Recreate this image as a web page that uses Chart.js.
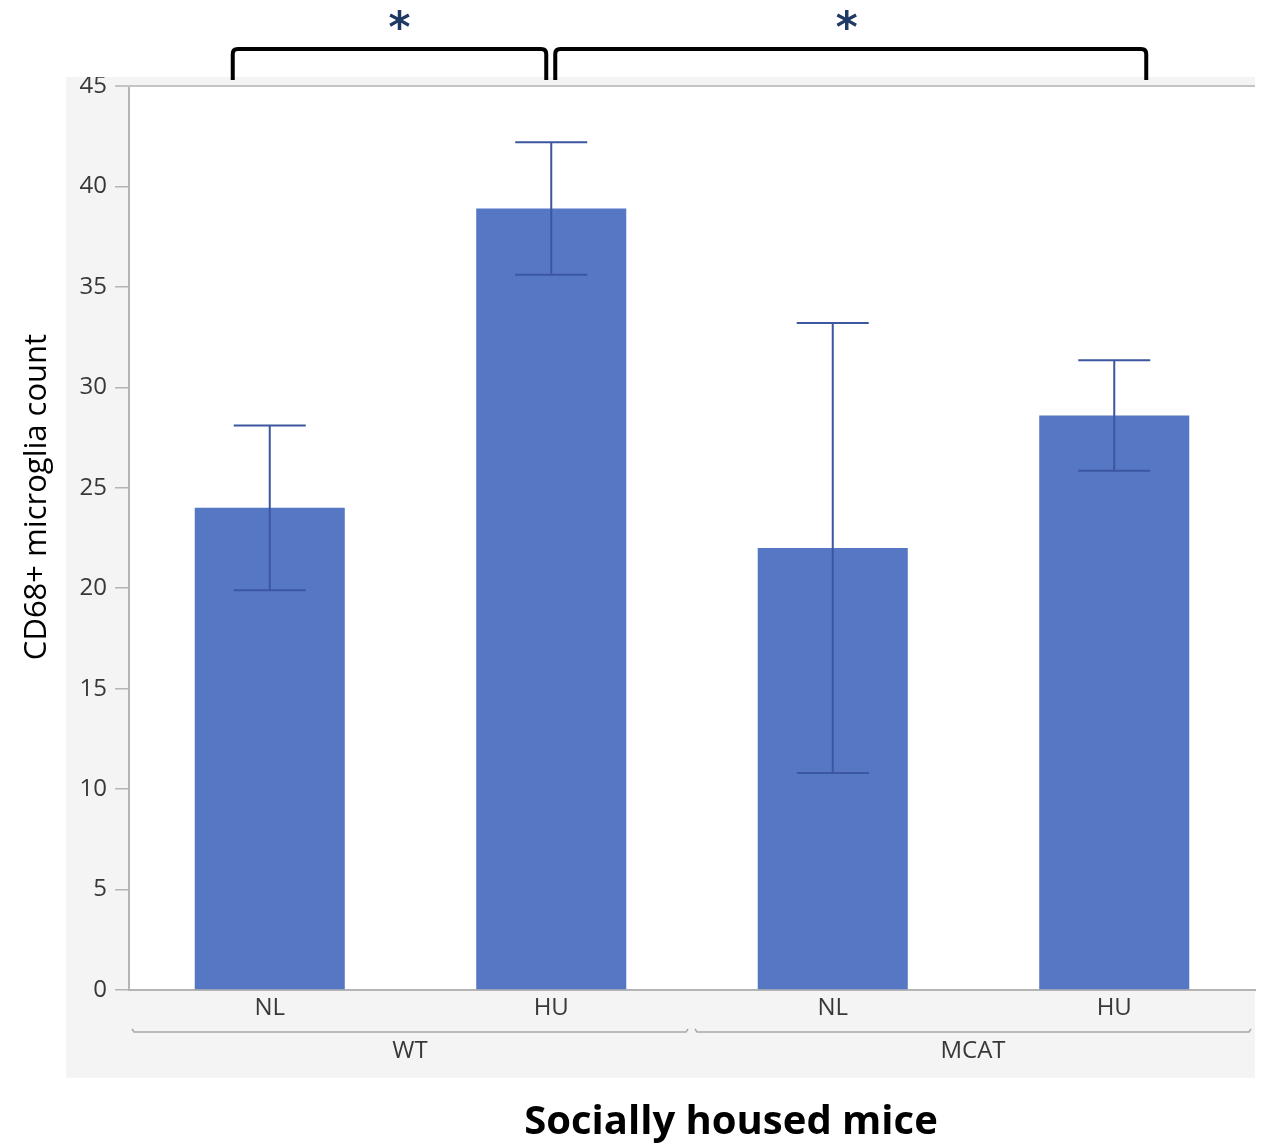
<!DOCTYPE html>
<html>
<head>
<meta charset="utf-8">
<script src="https://cdn.jsdelivr.net/npm/chart.js@4.4.1/dist/chart.umd.min.js"></script>
<style>
  html, body { margin: 0; padding: 0; background: #ffffff; }
  #wrap { position: relative; width: 1263px; height: 1145px; }
</style>
</head>
<body>
<div id="wrap"><canvas id="chart" width="1263" height="1145"></canvas></div>
<script>
// Bar categories (treatment) and their genotype groups
const categories = ['NL', 'HU', 'NL', 'HU'];
const groups = ['WT', 'MCAT'];
const groupSpans = [[0, 1], [2, 3]];

// Mean CD68+ microglia count and standard error for each bar
const means = [24.0, 38.9, 22.0, 28.6];
const sems = [4.1, 3.3, 11.2, 2.75];

// Y axis ticks
const yTicks = [0, 5, 10, 15, 20, 25, 30, 35, 40, 45];

// Significance brackets between bars
const brackets = [
  { from: 0, to: 1, label: '*' },
  { from: 1, to: 3, label: '*' }
];

const barColor = '#5677c4';
const errColor = '#3c56a0';
const labelFamily = '"Open Sans", "Noto Sans", sans-serif';
const tickFont = { family: labelFamily, size: 24 };

const decorations = {
  id: 'decorations',
  beforeDraw(chart) {
    const { ctx, chartArea: a } = chart;
    ctx.save();
    // light panel behind the plot
    ctx.fillStyle = '#f4f4f4';
    ctx.fillRect(66, a.top - 9, a.right - 66, 1078 - (a.top - 9));
    ctx.fillStyle = '#ffffff';
    ctx.fillRect(a.left, a.top, a.right - a.left, a.bottom - a.top);
    ctx.restore();
  },
  afterDatasetsDraw(chart) {
    const { ctx, chartArea: a, scales: { x, y } } = chart;
    ctx.save();

    // error bars
    ctx.strokeStyle = errColor;
    ctx.lineWidth = 2;
    const cap = 36;
    means.forEach((m, i) => {
      const cx = x.getPixelForValue(i);
      const yHi = y.getPixelForValue(m + sems[i]);
      const yLo = y.getPixelForValue(m - sems[i]);
      ctx.beginPath();
      ctx.moveTo(cx, yHi); ctx.lineTo(cx, yLo);
      ctx.moveTo(cx - cap, yHi); ctx.lineTo(cx + cap, yHi);
      ctx.moveTo(cx - cap, yLo); ctx.lineTo(cx + cap, yLo);
      ctx.stroke();
    });

    // top frame line
    ctx.strokeStyle = '#c4c4c4';
    ctx.lineWidth = 2;
    ctx.beginPath();
    ctx.moveTo(a.left - 14, a.top); ctx.lineTo(a.right, a.top);
    ctx.stroke();

    // genotype group separators and labels
    const step = x.getPixelForValue(1) - x.getPixelForValue(0);
    const lineY = 1032;
    ctx.strokeStyle = '#a8a8a8';
    ctx.lineWidth = 1.5;
    ctx.fillStyle = '#383838';
    ctx.font = '24px ' + labelFamily;
    ctx.textAlign = 'center';
    ctx.textBaseline = 'middle';
    groupSpans.forEach((span, g) => {
      const x0 = x.getPixelForValue(span[0]) - step / 2 + 3;
      const x1 = x.getPixelForValue(span[1]) + step / 2 - 4;
      ctx.beginPath();
      ctx.moveTo(x0, lineY - 3); ctx.lineTo(x0 + 2, lineY);
      ctx.lineTo(x1 - 2, lineY); ctx.lineTo(x1, lineY - 3);
      ctx.stroke();
      ctx.fillText(groups[g], (x0 + x1) / 2, 1051);
    });

    // significance brackets
    const topY = a.top - 37;
    const botY = a.top - 6;
    const r = 5;
    brackets.forEach((b, k) => {
      const bx0 = k === 0 ? x.getPixelForValue(b.from) - 37 : x.getPixelForValue(b.from) + 4;
      const bx1 = k === 0 ? x.getPixelForValue(b.to) - 5 : x.getPixelForValue(b.to) + 32;
      ctx.strokeStyle = '#000000';
      ctx.lineWidth = 4;
      ctx.beginPath();
      ctx.moveTo(bx0, botY);
      ctx.lineTo(bx0, topY + r);
      ctx.quadraticCurveTo(bx0, topY, bx0 + r, topY);
      ctx.lineTo(bx1 - r, topY);
      ctx.quadraticCurveTo(bx1, topY, bx1, topY + r);
      ctx.lineTo(bx1, botY);
      ctx.stroke();
      ctx.fillStyle = '#1f3864';
      ctx.font = 'bold 42px "DejaVu Sans", sans-serif';
      ctx.textAlign = 'center';
      ctx.textBaseline = 'middle';
      const mid = (bx0 + bx1) / 2 + (k === 0 ? 10 : -4);
      ctx.fillText(b.label, mid, 31);
    });

    // y axis title
    ctx.fillStyle = '#000000';
    ctx.font = '31px ' + labelFamily;
    ctx.translate(37, 497);
    ctx.rotate(-Math.PI / 2);
    ctx.fillText('CD68+ microglia count', 0, 0);
    ctx.setTransform(1, 0, 0, 1, 0, 0);

    // x axis title
    ctx.font = 'bold 40px ' + labelFamily;
    ctx.fillText('Socially housed mice', 731, 1123);
    ctx.restore();
  },
  afterDraw(chart) {
    // the panel's top edge trims the highest tick label
    const { ctx, chartArea: a } = chart;
    ctx.save();
    ctx.fillStyle = '#ffffff';
    ctx.fillRect(60, 0, a.left - 60, a.top - 9);
    ctx.restore();
  }
};

new Chart(document.getElementById('chart'), {
  type: 'bar',
  data: {
    labels: categories,
    datasets: [{
      data: means,
      backgroundColor: barColor,
      borderWidth: 0,
      categoryPercentage: 1,
      barPercentage: 0.533
    }]
  },
  options: {
    responsive: false,
    animation: false,
    devicePixelRatio: 1,
    layout: { padding: { left: 0, top: 86, right: 8, bottom: 0 } },
    plugins: { legend: { display: false }, tooltip: { enabled: false } },
    scales: {
      x: {
        afterFit(s) { s.height = 155; },
        grid: { display: false, drawTicks: false },
        border: { color: '#b4b4b4', width: 2 },
        ticks: { color: '#383838', font: tickFont, padding: 4 }
      },
      y: {
        min: 0, max: 45,
        afterFit(s) { s.width = 129; },
        afterBuildTicks(s) { s.ticks = yTicks.map(v => ({ value: v })); },
        grid: { drawOnChartArea: false, tickLength: 14, color: '#b4b4b4', lineWidth: 1.5 },
        border: { color: '#b4b4b4', width: 2 },
        ticks: { color: '#383838', font: tickFont, padding: 8 }
      }
    }
  },
  plugins: [decorations]
});
</script>
</body>
</html>
